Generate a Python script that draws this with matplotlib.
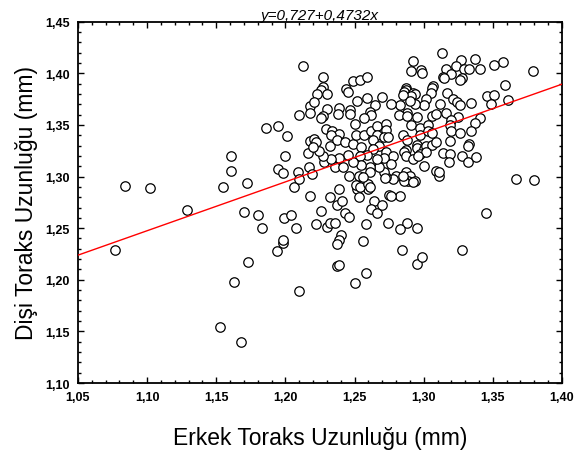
import numpy as np
import matplotlib.pyplot as plt
from matplotlib.ticker import MultipleLocator

plt.rcParams['font.family'] = ['Liberation Sans', 'DejaVu Sans']

# erkek (x) ve disi (y) toraks uzunluklari
pairs = [
    (1.077, 1.229), (1.084, 1.291), (1.102, 1.289), (1.129, 1.268), (1.155, 1.290),
    (1.161, 1.320), (1.161, 1.305), (1.172, 1.294), (1.186, 1.347), (1.195, 1.349),
    (1.201, 1.339), (1.200, 1.320), (1.195, 1.307), (1.198, 1.303), (1.206, 1.290),
    (1.209, 1.304), (1.210, 1.360), (1.153, 1.154), (1.168, 1.140), (1.163, 1.198),
    (1.173, 1.217), (1.170, 1.266), (1.180, 1.263), (1.183, 1.250), (1.194, 1.228),
    (1.198, 1.236), (1.198, 1.239), (1.199, 1.260), (1.204, 1.263), (1.208, 1.250),
    (1.210, 1.189),
    (1.218, 1.281), (1.232, 1.280), (1.239, 1.288), (1.252, 1.288), (1.260, 1.288),
    (1.237, 1.272), (1.241, 1.276), (1.253, 1.280), (1.264, 1.276), (1.262, 1.269),
    (1.266, 1.265), (1.270, 1.272), (1.275, 1.282), (1.283, 1.281), (1.226, 1.267),
    (1.243, 1.265), (1.246, 1.261), (1.222, 1.254), (1.230, 1.251), (1.232, 1.255),
    (1.236, 1.255), (1.258, 1.254), (1.274, 1.255), (1.288, 1.255), (1.283, 1.249),
    (1.295, 1.250), (1.240, 1.243), (1.239, 1.239), (1.237, 1.235), (1.256, 1.238),
    (1.284, 1.229), (1.328, 1.229), (1.345, 1.265), (1.237, 1.213), (1.239, 1.214),
    (1.258, 1.207), (1.250, 1.197), (1.295, 1.215), (1.299, 1.222),
    (1.213, 1.407), (1.313, 1.420), (1.292, 1.412), (1.327, 1.413), (1.337, 1.414),
    (1.357, 1.411), (1.351, 1.408), (1.379, 1.402), (1.291, 1.402), (1.298, 1.403),
    (1.299, 1.400), (1.316, 1.404), (1.323, 1.407), (1.329, 1.404), (1.333, 1.404),
    (1.341, 1.404), (1.320, 1.399), (1.314, 1.396), (1.315, 1.395), (1.328, 1.395),
    (1.326, 1.394), (1.227, 1.396), (1.249, 1.393), (1.254, 1.394), (1.259, 1.396),
    (1.227, 1.387), (1.226, 1.384), (1.230, 1.380), (1.223, 1.380), (1.244, 1.385),
    (1.245, 1.382), (1.287, 1.386), (1.287, 1.384), (1.286, 1.382), (1.292, 1.381),
    (1.307, 1.388), (1.306, 1.386), (1.305, 1.381), (1.317, 1.381), (1.359, 1.389),
    (1.346, 1.378), (1.351, 1.379), (1.361, 1.374), (1.349, 1.370), (1.334, 1.371),
    (1.321, 1.375), (1.324, 1.372), (1.326, 1.369), (1.312, 1.370), (1.302, 1.375),
    (1.300, 1.369), (1.294, 1.380), (1.291, 1.378), (1.285, 1.379), (1.294, 1.370),
    (1.290, 1.373), (1.283, 1.369), (1.288, 1.362), (1.282, 1.360), (1.288, 1.359),
    (1.295, 1.358), (1.306, 1.359), (1.309, 1.361), (1.316, 1.362), (1.325, 1.358),
    (1.320, 1.355), (1.341, 1.357), (1.337, 1.352), (1.319, 1.350), (1.291, 1.350),
    (1.297, 1.347), (1.303, 1.350), (1.276, 1.370), (1.270, 1.377), (1.265, 1.369),
    (1.259, 1.376), (1.252, 1.373), (1.261, 1.363), (1.262, 1.360), (1.257, 1.357),
    (1.247, 1.364), (1.247, 1.361), (1.239, 1.366), (1.238, 1.361), (1.230, 1.365),
    (1.227, 1.359), (1.226, 1.357), (1.218, 1.368), (1.218, 1.362), (1.221, 1.372),
    (1.250, 1.351), (1.229, 1.346), (1.234, 1.344), (1.239, 1.341), (1.233, 1.340),
    (1.218, 1.334), (1.221, 1.336), (1.222, 1.333), (1.232, 1.330), (1.237, 1.335),
    (1.243, 1.333), (1.249, 1.332), (1.255, 1.329), (1.251, 1.340), (1.257, 1.340),
    (1.262, 1.344), (1.266, 1.349), (1.273, 1.351), (1.273, 1.345), (1.266, 1.340),
    (1.271, 1.338), (1.274, 1.338), (1.263, 1.335), (1.268, 1.330), (1.263, 1.327),
    (1.259, 1.321), (1.254, 1.320), (1.273, 1.324), (1.278, 1.320), (1.271, 1.318),
    (1.285, 1.340), (1.288, 1.335), (1.295, 1.331), (1.297, 1.340), (1.303, 1.344),
    (1.306, 1.342), (1.295, 1.328), (1.300, 1.327), (1.302, 1.330), (1.306, 1.331),
    (1.309, 1.333), (1.287, 1.326), (1.286, 1.324), (1.287, 1.320), (1.297, 1.322),
    (1.302, 1.324), (1.314, 1.323), (1.319, 1.322), (1.319, 1.334), (1.320, 1.344),
    (1.326, 1.342), (1.334, 1.344), (1.333, 1.332), (1.332, 1.330), (1.328, 1.320),
    (1.332, 1.314), (1.338, 1.319), (1.318, 1.314), (1.300, 1.310), (1.309, 1.305),
    (1.311, 1.301), (1.292, 1.317), (1.296, 1.320), (1.287, 1.304), (1.290, 1.301),
    (1.289, 1.296), (1.294, 1.296), (1.286, 1.296), (1.280, 1.301), (1.278, 1.298),
    (1.273, 1.300), (1.271, 1.304), (1.276, 1.312), (1.268, 1.309), (1.266, 1.317),
    (1.261, 1.309), (1.261, 1.304), (1.255, 1.311), (1.253, 1.301), (1.249, 1.314),
    (1.245, 1.321), (1.239, 1.318), (1.236, 1.309), (1.242, 1.309), (1.228, 1.314),
    (1.233, 1.317), (1.227, 1.320), (1.224, 1.325), (1.216, 1.323), (1.220, 1.329),
    (1.217, 1.309), (1.219, 1.302), (1.210, 1.298), (1.246, 1.301), (1.251, 1.292),
    (1.254, 1.290), (1.260, 1.293), (1.261, 1.290), (1.256, 1.300), (1.272, 1.299),
    (1.276, 1.281), (1.285, 1.301), (1.292, 1.295), (1.311, 1.304), (1.367, 1.298),
    (1.380, 1.297),
]
erkek = [p[0] for p in pairs]
disi = [p[1] for p in pairs]

a, b = 0.727, 0.4732
xticks = [1.05, 1.10, 1.15, 1.20, 1.25, 1.30, 1.35, 1.40]
yticks = [1.10, 1.15, 1.20, 1.25, 1.30, 1.35, 1.40, 1.45]

fig = plt.figure(figsize=(5.82, 4.52), dpi=100)
ax = fig.add_axes([0.134, 0.1504, 0.8316, 0.7994])

ax.plot(erkek, disi, 'o', mfc='white', mec='black', ms=6.8, mew=0.9, zorder=2)
xl = np.array([1.05, 1.40])
ax.plot(xl, a + b*xl, color='red', lw=1.0, zorder=3)

ax.set_xlim(1.05, 1.40)
ax.set_ylim(1.10, 1.45)
ax.set_xticks(xticks)
ax.set_yticks(yticks)
ax.set_xticklabels([f'{t:.2f}'.replace('.', ',') for t in xticks], fontsize=9, fontweight='bold')
ax.set_yticklabels([f'{t:.2f}'.replace('.', ',') for t in yticks], fontsize=9, fontweight='bold')
ax.xaxis.set_minor_locator(MultipleLocator(0.01))
ax.yaxis.set_minor_locator(MultipleLocator(0.01))
ax.tick_params(which='both', direction='in', top=True, right=True, width=1.0)
ax.tick_params(which='major', length=4, pad=6)
ax.tick_params(which='minor', length=2)
for s in ax.spines.values():
    s.set_linewidth(1.3)

ax.set_xlabel('Erkek Toraks Uzunluğu (mm)', fontsize=16.5, labelpad=16)
ax.set_ylabel('Dişi Toraks Uzunluğu (mm)', fontsize=16.5, labelpad=5)
ax.set_title('y=0,727+0,4732x', fontsize=11, style='italic', pad=2)

fig.savefig('out.png', dpi=100)
